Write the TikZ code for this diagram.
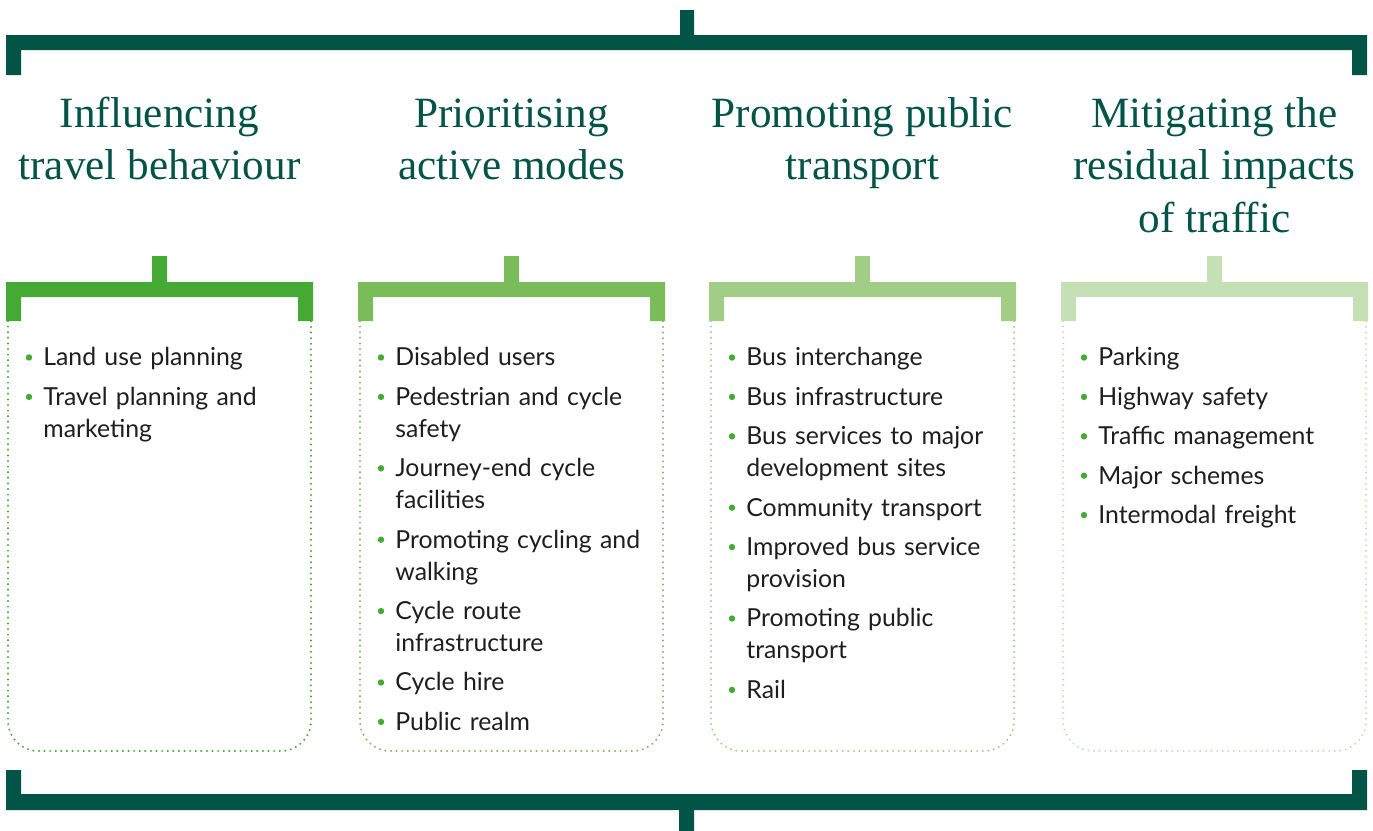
\documentclass[tikz,border=0pt]{standalone}
\usepackage{fontspec}
\setmainfont{Liberation Serif}
\newfontfamily\bodyfont{Lato}
\usetikzlibrary{positioning,calc}

\definecolor{darkgreen}{RGB}{2,84,71}
\definecolor{greenA}{RGB}{68,170,52}
\definecolor{greenB}{RGB}{122,187,90}
\definecolor{greenC}{RGB}{162,205,135}
\definecolor{greenD}{RGB}{197,224,180}
\definecolor{bodytext}{RGB}{30,30,30}

\tikzset{
  title/.style={anchor=north,align=center,inner sep=0pt,text=darkgreen,
    font=\fontsize{21.6}{26.3}\selectfont},
  item/.style={inner sep=0pt,text width=140pt,align=left,text=bodytext,
    font=\bodyfont\fontsize{12.4}{16}\selectfont},
  dotline/.style={line width=1.1pt,line cap=round,dash pattern=on 0pt off 2.8pt,rounded corners=15pt}
}

\begin{document}
\begin{tikzpicture}[x=0.5pt,y=-0.5pt]
\useasboundingbox (0,0) rectangle (1373,831);

% outer brackets
\fill[darkgreen] (680,10) rectangle (694,36) (6,35) rectangle (1367,50)
  (6,35) rectangle (21,75) (1352,35) rectangle (1367,75);
\fill[darkgreen] (679,809) rectangle (694,831) (6,794) rectangle (1367,810)
  (6,770) rectangle (21,810) (1352,770) rectangle (1367,810);

% column brackets and boxes
\foreach \col/\x in {greenA/6,greenB/358,greenC/709,greenD/1061}{
  \fill[\col] (\x+146,256) rectangle (\x+161,283) (\x,282) rectangle (\x+307,297)
    (\x,282) rectangle (\x+15,321) (\x+292,282) rectangle (\x+307,321);
  \draw[\col,dotline] (\x+2,321) -- (\x+2,751) -- (\x+305,751) -- (\x+305,321);
}

% titles
\node[title] (t1) at (159.5,90) {\strut Influencing\\travel behaviour};
\node[title] (t2) at (511.5,90) {\strut Prioritising\\active modes};
\node[title] (t3) at (862.5,90) {\strut Promoting public\\transport};
\node[title] (t4) at (1214.5,90) {\strut Mitigating the\\residual impacts\\of traffic};

% column 1
\node[item,anchor=north west] (a1) at (43,343) {\strut Land use planning\strut};
\node[item,below right=3.3pt and 0pt of a1.south west] (a2) {\strut Travel planning and\\marketing\strut};

% column 2
\node[item,anchor=north west] (b1) at (395,343) {\strut Disabled users\strut};
\node[item,below right=3.3pt and 0pt of b1.south west] (b2) {\strut Pedestrian and cycle\\safety\strut};
\node[item,below right=3.3pt and 0pt of b2.south west] (b3) {\strut Journey-end cycle\\facilities\strut};
\node[item,below right=3.3pt and 0pt of b3.south west] (b4) {\strut Promoting cycling and\\walking\strut};
\node[item,below right=3.3pt and 0pt of b4.south west] (b5) {\strut Cycle route\\infrastructure\strut};
\node[item,below right=3.3pt and 0pt of b5.south west] (b6) {\strut Cycle hire\strut};
\node[item,below right=3.3pt and 0pt of b6.south west] (b7) {\strut Public realm\strut};

% column 3
\node[item,anchor=north west] (c1) at (746,343) {\strut Bus interchange\strut};
\node[item,below right=3.3pt and 0pt of c1.south west] (c2) {\strut Bus infrastructure\strut};
\node[item,below right=3.3pt and 0pt of c2.south west] (c3) {\strut Bus services to major\\development sites\strut};
\node[item,below right=3.3pt and 0pt of c3.south west] (c4) {\strut Community transport\strut};
\node[item,below right=3.3pt and 0pt of c4.south west] (c5) {\strut Improved bus service\\provision\strut};
\node[item,below right=3.3pt and 0pt of c5.south west] (c6) {\strut Promoting public\\transport\strut};
\node[item,below right=3.3pt and 0pt of c6.south west] (c7) {\strut Rail\strut};

% column 4
\node[item,anchor=north west] (d1) at (1098,343) {\strut Parking\strut};
\node[item,below right=3.3pt and 0pt of d1.south west] (d2) {\strut Highway safety\strut};
\node[item,below right=3.3pt and 0pt of d2.south west] (d3) {\strut Traffic management\strut};
\node[item,below right=3.3pt and 0pt of d3.south west] (d4) {\strut Major schemes\strut};
\node[item,below right=3.3pt and 0pt of d4.south west] (d5) {\strut Intermodal freight\strut};

% bullets
\foreach \i in {a1,a2,b1,b2,b3,b4,b5,b6,b7,c1,c2,c3,c4,c5,c6,c7,d1,d2,d3,d4,d5}
  \fill[greenA] ($(\i.north west)+(-14,14.5)$) circle[radius=1.6pt];
\end{tikzpicture}
\end{document}
